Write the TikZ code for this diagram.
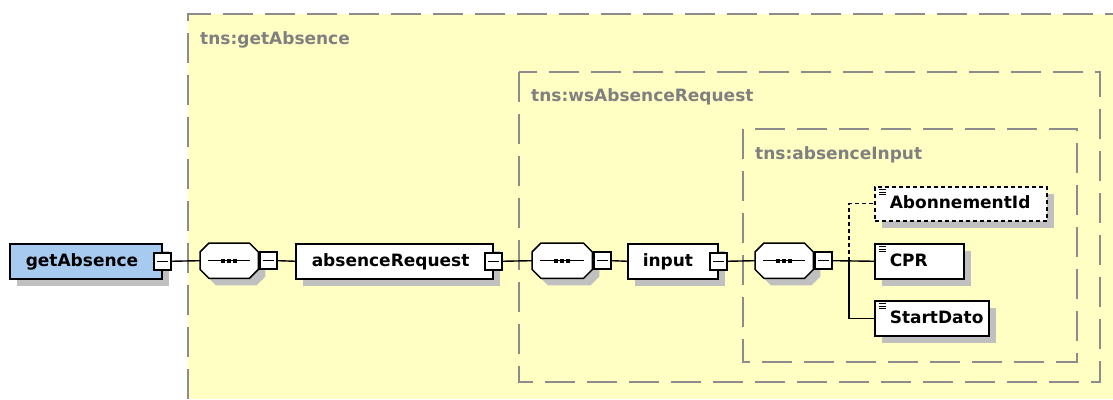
\documentclass[tikz,border=0pt]{standalone}
\usepackage{fontspec}
\setsansfont{DejaVu Sans}
\usetikzlibrary{shadows}
\definecolor{bgyellow}{RGB}{255,255,196}
\definecolor{grpgray}{RGB}{140,140,140}
\definecolor{lblgray}{RGB}{128,128,128}
\definecolor{shgray}{RGB}{192,192,192}
\definecolor{rootblue}{RGB}{166,202,240}
\newcommand\seqoct[1]{%
  \filldraw[line width=1.5pt, fill=white, myshadow]
    ([xshift=9pt]#1.north west) -- ([xshift=-9pt]#1.north east) --
    ([yshift=-9pt]#1.north east) -- ([yshift=9pt]#1.south east) --
    ([xshift=-9pt]#1.south east) -- ([xshift=9pt]#1.south west) --
    ([yshift=9pt]#1.south west) -- ([yshift=-9pt]#1.north west) -- cycle;
  \draw[line width=1.3pt] ([xshift=8pt]#1.west) -- ([xshift=-8pt]#1.east);
  \foreach \d in {-6,0,6}
    \fill ([xshift=\d pt]#1.center) +(-2.2pt,-2.2pt) rectangle +(2.2pt,2.2pt);
}
\begin{document}
\begin{tikzpicture}[x=1pt,y=-1pt,
  myshadow/.style={drop shadow={shadow xshift=7pt, shadow yshift=-7pt, fill=shgray, opacity=1, draw=none}},
  grpborder/.style={draw=grpgray, line width=1.6pt, dash pattern=on 30pt off 12pt},
  grplabel/.style={font=\sffamily\bfseries\fontsize{17}{20}\selectfont, text=lblgray, inner sep=0pt, anchor=base west},
  elem/.style={draw=black, fill=white, line width=1.5pt, anchor=north west,
    minimum height=35pt, inner xsep=0pt, inner ysep=0pt, text width=#1pt, align=left,
    text height=13pt, text depth=3pt, font=\sffamily\bfseries\fontsize{17}{20}\selectfont, myshadow},
  leaf/.style={elem=#1, path picture={\foreach \k in {3,5.4,7.8}
      \draw[solid, line width=1pt, black] ([xshift=4pt,yshift=-\k pt]path picture bounding box.north west) -- ++(7pt,0pt);}},
  minus/.style={draw=black, fill=white, line width=1.5pt, minimum width=17pt, minimum height=17pt, inner sep=0pt,
    path picture={\draw[solid, line width=1.3pt] ([xshift=3pt]path picture bounding box.west) -- ([xshift=-3pt]path picture bounding box.east);}},
  seqnode/.style={anchor=north west, minimum width=#1pt, minimum height=35pt, inner sep=0pt},
  conn/.style={draw=black, line width=1.4pt},
  optconn/.style={conn, dash pattern=on 4pt off 3pt}
]
\useasboundingbox (0,0) rectangle (1113,399);
\fill[white] (0,0) rectangle (1113,399);
\fill[bgyellow] (188,14) rectangle (1113,399);
\draw[grpborder] (188,399) -- (188,14) -- (1113,14);
\draw[grpborder] (519,72) rectangle (1100,382);
\draw[grpborder] (743,129) rectangle (1077,362);
\node[grplabel] (lblGet) at (200,44) {tns:getAbsence};
\node[grplabel] (lblReq) at (531,101.5) {tns:wsAbsenceRequest};
\node[grplabel] (lblInp) at (755,159) {tns:absenceInput};

% root
\node[elem=152, fill=rootblue] (getAbsence) at (9,243) {\hspace*{16pt}getAbsence};
\node[minus] (getAbsence-m) at (getAbsence.east) {};
% sequence 1
\node[seqnode=58] (seq1) at (200,243) {};
\seqoct{seq1}
\node[minus, anchor=west] (seq1-m) at ([xshift=1pt]seq1.east) {};
% absenceRequest
\node[elem=197] (absenceRequest) at (295,243) {\hspace*{16pt}absenceRequest};
\node[minus] (absenceRequest-m) at (absenceRequest.east) {};
% sequence 2
\node[seqnode=60] (seq2) at (532,243) {};
\seqoct{seq2}
\node[minus, anchor=west] (seq2-m) at ([xshift=1pt]seq2.east) {};
% input
\node[elem=90] (input) at (627,243) {\hspace*{15pt}input};
\node[minus] (input-m) at (input.east) {};
% sequence 3
\node[seqnode=58] (seq3) at (755,243) {};
\seqoct{seq3}
\node[minus, anchor=west] (seq3-m) at ([xshift=1pt]seq3.east) {};
% leaves
\node[leaf=172, minimum height=34pt, dash pattern=on 4pt off 3pt] (abon) at (874,186) {\hspace*{15pt}AbonnementId};
\node[leaf=89] (cpr) at (874,243) {\hspace*{15pt}CPR};
\node[leaf=114] (start) at (874,300) {\hspace*{15pt}StartDato};
\coordinate (j) at (849,260.5);

% connectors
\draw[conn] (getAbsence-m.east) -- (seq1.west);
\draw[conn] (seq1-m.east) -- (absenceRequest.west);
\draw[conn] (absenceRequest-m.east) -- (seq2.west);
\draw[conn] (seq2-m.east) -- (input.west);
\draw[conn] (input-m.east) -- (seq3.west);
\draw[conn] (seq3-m.east) -- (cpr.west);
\draw[conn] (j) |- (start.west);
\draw[optconn] (j) |- (abon.west);
\end{tikzpicture}
\end{document}
